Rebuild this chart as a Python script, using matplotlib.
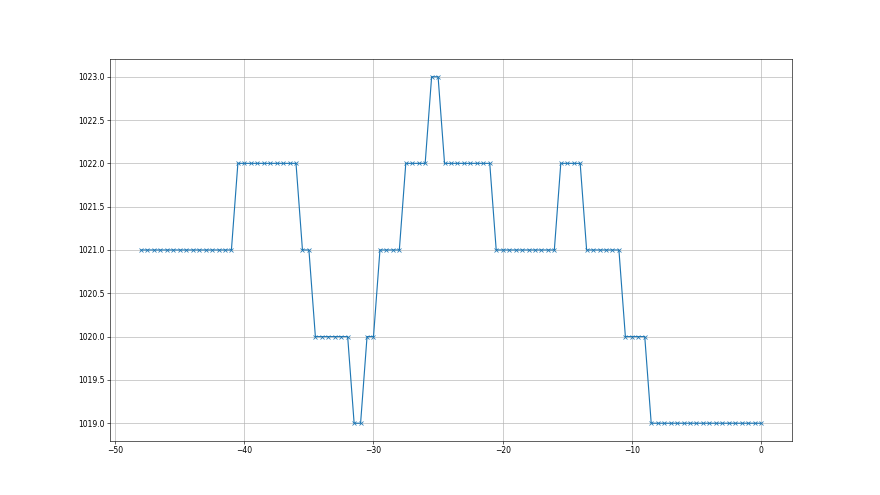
import numpy as np
import matplotlib
matplotlib.use("Agg")
import matplotlib.pyplot as plt

# x sampled every 0.5 from -48 to 0
temps = np.arange(-48, 0.5, 0.5)

pression = [
    1021, 1021, 1021, 1021, 1021, 1021, 1021, 1021, 1021, 1021, 1021, 1021, 1021, 1021, 1021,
    1022, 1022, 1022, 1022, 1022, 1022, 1022, 1022, 1022, 1022,
    1021, 1021,
    1020, 1020, 1020, 1020, 1020, 1020,
    1019, 1019,
    1020, 1020,
    1021, 1021, 1021, 1021,
    1022, 1022, 1022, 1022,
    1023, 1023,
    1022, 1022, 1022, 1022, 1022, 1022, 1022, 1022,
    1021, 1021, 1021, 1021, 1021, 1021, 1021, 1021, 1021, 1021,
    1022, 1022, 1022, 1022,
    1021, 1021, 1021, 1021, 1021, 1021,
    1020, 1020, 1020, 1020,
    1019, 1019, 1019, 1019, 1019, 1019, 1019, 1019, 1019, 1019, 1019, 1019, 1019, 1019, 1019, 1019, 1019, 1019,
]

fig = plt.figure(figsize=(16, 9), dpi=55)
plt.plot(temps, pression, marker='x')
plt.grid(True)
plt.savefig("out.png")
